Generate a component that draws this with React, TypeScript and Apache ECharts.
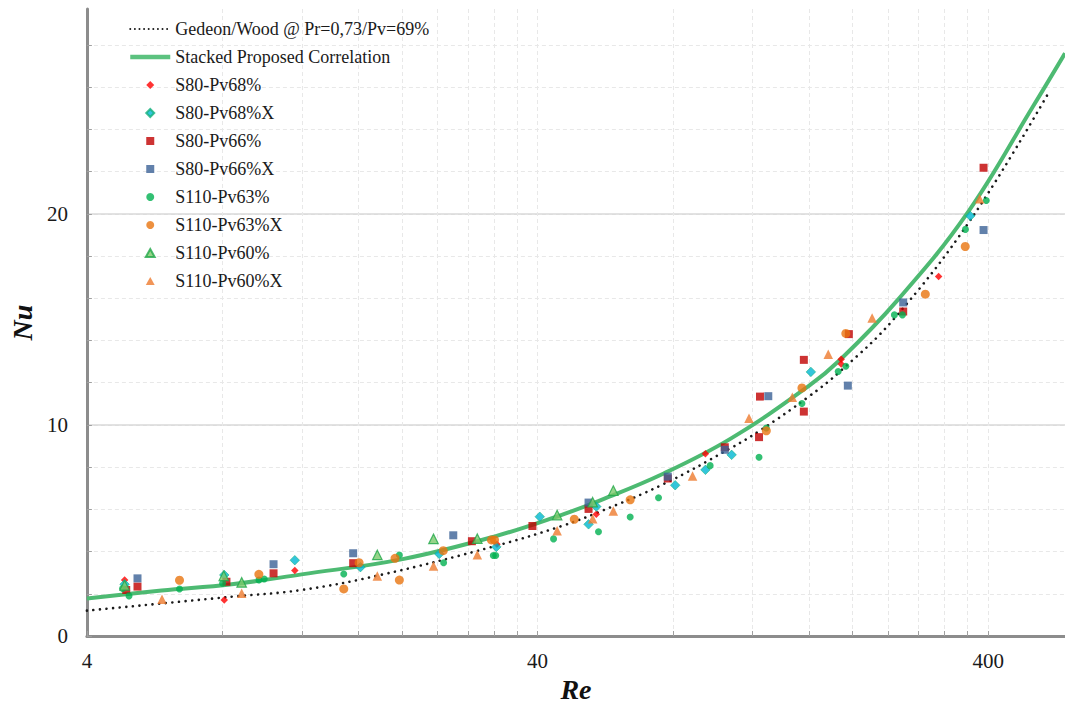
import React, { useEffect, useRef } from 'react';
import * as echarts from 'echarts';

const FONT = '"Liberation Serif", "Times New Roman", Times, serif';

// Axis ticks / labels (Re log axis)
const xTickValues = [4, 8, 12, 16, 20, 24, 28, 32, 36, 40, 80, 120, 160, 200, 240, 280, 320, 360, 400];
const xLabelValues = [4, 40, 400];
const yTickValues = [0, 2, 4, 6, 8, 10, 12, 14, 16, 18, 20, 22, 24, 26, 28];
const yLabelValues = [0, 10, 20];

// Curves [Re, Nu]
const gedeonWood = [
  [4, 1.2], [8.38, 1.86], [11.98, 2.18], [18.0, 2.9], [32.05, 4.25], [45.1, 5.2],
  [54.4, 5.85], [76.2, 7.2], [107.3, 8.9], [125, 9.75], [158.9, 11.3], [188, 12.55],
  [246.5, 15.0], [365, 19.7], [540, 25.6],
];
const proposed = [
  [4, 1.78], [5.86, 2.15], [8.38, 2.45], [11.98, 2.92], [19.94, 3.63], [32.05, 4.71],
  [45.1, 5.73], [54.4, 6.38], [76.2, 7.7], [107.3, 9.35], [158.9, 11.8], [188, 13.1],
  [251.4, 15.9], [359.4, 20.03], [503, 25.09], [592, 27.6],
];

// Measurements [Re, Nu]
const s80pv68 = [
  [4.85, 2.65], [8.07, 1.71], [11.57, 3.1], [32.5, 4.35], [54.0, 5.77], [94.3, 8.63],
  [188.7, 13.11], [188.7, 12.89], [310.4, 17.03],
];
const s80pv68x = [
  [4.85, 2.45], [8.07, 2.89], [11.57, 3.59], [16.18, 3.26], [24.2, 3.89], [32.4, 4.22],
  [40.45, 5.65], [51.9, 5.29], [54.0, 6.13], [80.8, 7.14], [94.3, 7.87], [107.8, 8.58],
  [161.6, 12.51], [364.8, 19.9],
];
const s80pv66 = [
  [4.89, 2.18], [5.18, 2.34], [8.16, 2.57], [10.38, 2.97], [15.59, 3.45], [28.6, 4.49],
  [38.96, 5.21], [51.9, 6.02], [77.8, 7.46], [104.1, 8.94], [124, 9.42], [124.6, 11.34],
  [155.9, 10.63], [155.9, 13.08], [196.2, 14.3], [259, 15.37], [390.5, 22.18],
];
const s80pv66x = [
  [5.18, 2.73], [10.38, 3.4], [15.59, 3.92], [26.0, 4.77], [51.9, 6.32], [77.8, 7.55],
  [104.1, 8.82], [130, 11.36], [195.2, 11.86], [259, 15.8], [390.5, 19.23],
];
const s110pv63 = [
  [4.96, 1.9], [4.8, 2.25], [6.42, 2.23], [8.0, 2.5], [9.63, 2.65], [9.9, 2.7],
  [14.86, 2.94], [19.74, 3.84], [24.75, 3.47], [31.9, 3.81], [32.3, 3.81], [43.4, 4.6],
  [54.6, 4.94], [64.2, 5.64], [74.2, 6.55], [96.6, 8.07], [124, 8.47], [128.7, 9.85],
  [154.4, 11.01], [185.8, 12.53], [193.2, 12.78], [247.6, 15.21], [258, 15.21],
  [356, 19.26], [396, 20.63],
];
const s110pv63x = [
  [6.42, 2.64], [9.63, 2.92], [14.86, 2.23], [16.07, 3.47], [19.31, 3.68], [19.74, 2.65],
  [24.7, 4.04], [31.6, 4.55], [32.1, 4.55], [48.25, 5.53], [64.2, 6.45], [128.7, 9.72],
  [154.4, 11.75], [193.2, 14.33], [290, 16.19], [355.6, 18.45],
];
const s110pv60 = [
  [4.85, 2.4], [8.05, 2.85], [8.82, 2.54], [17.64, 3.84], [23.5, 4.6], [29.4, 4.61],
  [44.2, 5.73], [53.0, 6.34], [58.9, 6.89],
];
const s110pv60x = [
  [5.87, 1.74], [8.82, 2.02], [17.64, 2.84], [23.5, 3.32], [29.4, 3.85], [44.2, 4.98],
  [53.0, 5.55], [58.9, 5.92], [88.3, 7.58], [117.8, 10.32], [147, 11.31], [176.6, 13.35],
  [221, 15.06], [382.7, 20.71],
];

const seriesNames = [
  'Gedeon/Wood @ Pr=0,73/Pv=69%',
  'Stacked Proposed Correlation',
  'S80-Pv68%',
  'S80-Pv68%X',
  'S80-Pv66%',
  'S80-Pv66%X',
  'S110-Pv63%',
  'S110-Pv63%X',
  'S110-Pv60%',
  'S110-Pv60%X',
];

const DIAMOND_ICON = 'path://M5,0L10,5L5,10L0,5Z';
const SQUARE_ICON = 'path://M0,0L10,0L10,10L0,10Z';
const TRIANGLE_ICON = 'path://M5,0L10,9L0,9Z';
const legendIcons: Record<string, string> = {
  'S80-Pv68%': DIAMOND_ICON,
  'S80-Pv68%X': DIAMOND_ICON,
  'S80-Pv66%': SQUARE_ICON,
  'S80-Pv66%X': SQUARE_ICON,
  'S110-Pv63%': 'circle',
  'S110-Pv63%X': 'circle',
  'S110-Pv60%': TRIANGLE_ICON,
  'S110-Pv60%X': TRIANGLE_ICON,
};

const GREEN = '#4dba72';

function scatter(name: string, data: number[][], symbol: string, size: number, itemStyle: any) {
  return {
    type: 'scatter',
    name,
    data,
    symbol,
    symbolSize: size,
    itemStyle,
    xAxisIndex: 0,
    yAxisIndex: 0,
    z: 3,
  };
}

export default function App() {
  const ref = useRef<HTMLDivElement>(null);
  useEffect(() => {
    if (!ref.current) return;
    const chart = echarts.init(ref.current, null, { renderer: 'svg' });
    const legendData = seriesNames.map((n, i) => {
      if (legendIcons[n]) return { name: n, icon: legendIcons[n] };
      if (i === 1) return { name: n, lineStyle: { width: 4.5, color: '#5cc27f' } };
      return { name: n, lineStyle: { width: 2, type: [0.01, 4.6], cap: 'round' } };
    });
    const option: any = {
      animation: false,
      backgroundColor: '#ffffff',
      textStyle: { fontFamily: FONT },
      grid: { left: 85, top: 9, right: 0, bottom: 74, containLabel: false },
      legend: {
        orient: 'vertical',
        left: 128,
        top: 19,
        padding: 0,
        itemWidth: 40,
        itemHeight: 8,
        itemGap: 8,
        symbolKeepAspect: true,
        selectedMode: false,
        textStyle: { fontFamily: FONT, fontSize: 18, color: '#1a1a1a', lineHeight: 20 },
        data: legendData,
      },
      xAxis: {
        type: 'log',
        logBase: 10,
        min: 4,
        max: 592,
        name: 'Re',
        nameLocation: 'middle',
        nameGap: 34,
        nameTextStyle: { fontFamily: FONT, fontSize: 28, fontWeight: 'bold', fontStyle: 'italic', color: '#111' },
        axisLine: { show: true, onZero: false, lineStyle: { color: '#8c8c8c', width: 3 } },
        axisTick: { show: true, inside: true, length: 5, customValues: xTickValues, lineStyle: { color: '#a0a0a0', width: 1 } },
        axisLabel: {
          customValues: xLabelValues,
          fontFamily: FONT,
          fontSize: 21,
          color: '#1a1a1a',
          margin: 14,
          formatter: (v: number) => String(Math.round(v)),
        },
        splitLine: { show: true, lineStyle: { color: '#e8e8e8', type: [4, 3], width: 1 } },
      },
      yAxis: [
        {
          type: 'value',
          min: 0,
          max: 29.7,
          position: 'left',
          axisLine: { show: true, onZero: false, lineStyle: { color: '#8c8c8c', width: 3 } },
          axisTick: { show: true, inside: true, length: 5, customValues: yTickValues, lineStyle: { color: '#a0a0a0', width: 1 } },
          axisLabel: { show: false },
          splitLine: { show: true, lineStyle: { color: '#e8e8e8', type: [4, 3], width: 1 } },
        },
        {
          type: 'value',
          min: 0,
          max: 29.7,
          position: 'left',
          name: 'Nu',
          nameLocation: 'middle',
          nameGap: 34,
          nameTextStyle: { fontFamily: FONT, fontSize: 28, fontWeight: 'bold', fontStyle: 'italic', color: '#111' },
          axisLine: { show: false },
          axisTick: { show: false, customValues: yLabelValues },
          axisLabel: { customValues: yLabelValues, fontFamily: FONT, fontSize: 21, color: '#1a1a1a', margin: 19 },
          splitLine: { show: true, lineStyle: { color: '#d9d9d9', width: 1.5 } },
        },
      ],
      series: [
        {
          type: 'line',
          name: seriesNames[0],
          data: gedeonWood,
          smooth: 0.4,
          symbol: 'none',
          lineStyle: { color: '#1a1a1a', width: 2.6, type: [0.01, 6.6], cap: 'round' },
          itemStyle: { color: 'rgba(0,0,0,0)', borderWidth: 0 },
          z: 2,
        },
        {
          type: 'line',
          name: seriesNames[1],
          data: proposed,
          smooth: 0.4,
          symbol: 'none',
          lineStyle: { color: GREEN, width: 4 },
          itemStyle: { color: 'rgba(0,0,0,0)', borderWidth: 0 },
          z: 2,
        },
        scatter(seriesNames[2], s80pv68, 'diamond', 7.5, { color: '#ff0000' }),
        scatter(seriesNames[3], s80pv68x, 'diamond', 9.5, { color: '#00b6d2', borderColor: '#14b07a', borderWidth: 0.7 }),
        scatter(seriesNames[4], s80pv66, 'rect', 8, { color: '#c00000' }),
        scatter(seriesNames[5], s80pv66x, 'rect', 8, { color: '#3b6296' }),
        scatter(seriesNames[6], s110pv63, 'circle', 7, { color: '#00b050' }),
        scatter(seriesNames[7], s110pv63x, 'circle', 9, { color: '#e8740f' }),
        scatter(seriesNames[8], s110pv60, 'triangle', 9.5, { color: '#7cc96b', borderColor: '#22a84a', borderWidth: 1.2 }),
        scatter(seriesNames[9], s110pv60x, 'triangle', 9.5, { color: '#ee7b2e' }),
      ],
    };
    chart.setOption(option);
    return () => chart.dispose();
  }, []);
  return (
    <div
      ref={ref}
      style={{ position: 'absolute', left: 0, top: 0, width: 1065, height: 710, background: '#fff' }}
    />
  );
}
